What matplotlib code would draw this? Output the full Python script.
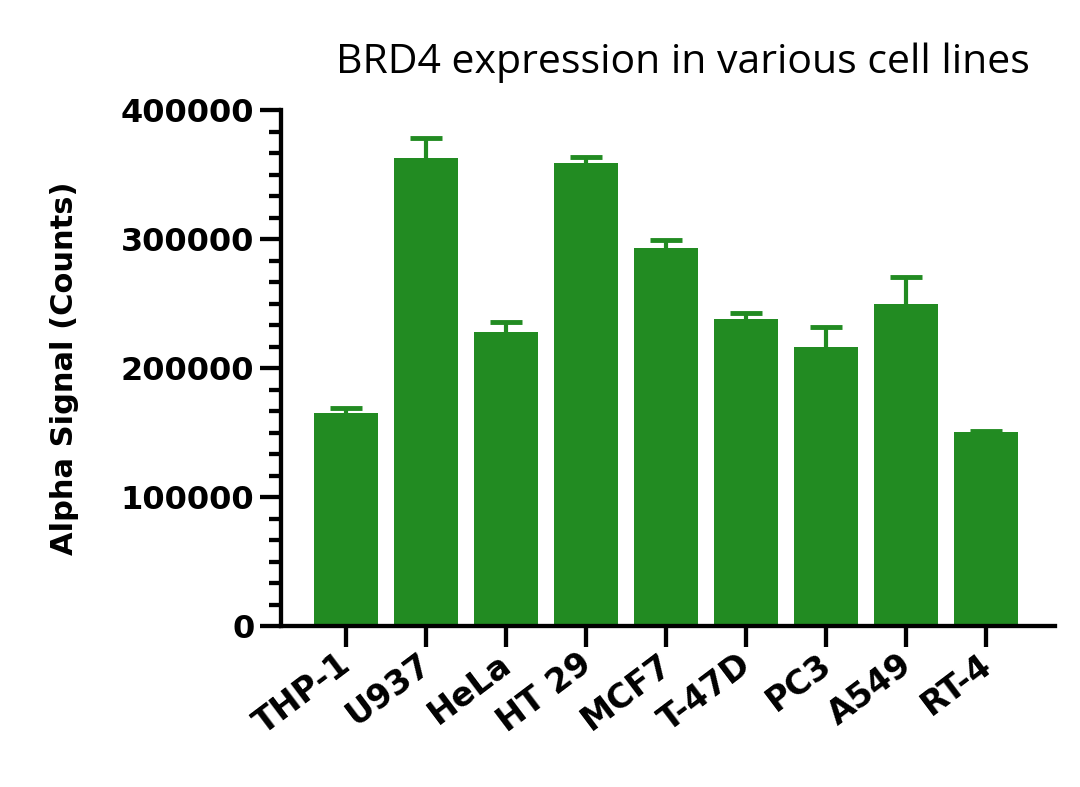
import numpy as np
import matplotlib
matplotlib.use("Agg")
import matplotlib.pyplot as plt
import matplotlib.transforms as mtransforms
from matplotlib.ticker import MultipleLocator, AutoMinorLocator

# values
cell_lines = ["THP-1", "U937", "HeLa", "HT 29", "MCF7", "T-47D", "PC3", "A549", "RT-4"]
signal = [165500, 363300, 228500, 359000, 293200, 238200, 216500, 249800, 150700]
sd = [3500, 15000, 7500, 5000, 6200, 5000, 15700, 20700, 1000]

green = "#228B22"

fig = plt.figure(figsize=(10.8, 7.87), dpi=100)
ax = fig.add_axes([0.260, 0.204, 0.717, 0.656])

x = np.arange(len(cell_lines))
ax.bar(x, signal, width=0.8, color=green, zorder=2)
eb = ax.errorbar(x, signal, yerr=[np.zeros(len(sd)), sd], fmt="none", ecolor=green,
                 elinewidth=3, capsize=11.5, capthick=3.5, zorder=1)
# only the upper cap
eb[1][0].set_visible(False)

ax.set_xlim(-0.81, 8.86)
ax.set_ylim(0, 400000)
ax.yaxis.set_major_locator(MultipleLocator(100000))
ax.yaxis.set_minor_locator(AutoMinorLocator(6))

for s in ["top", "right"]:
    ax.spines[s].set_visible(False)
for s in ["left", "bottom"]:
    ax.spines[s].set_linewidth(3.1)

ax.tick_params(axis="y", which="major", length=15, width=3.1, pad=4)
ax.tick_params(axis="y", which="minor", length=8.4, width=3.1)
ax.tick_params(axis="x", which="major", length=15, width=3.1, pad=0)

ax.set_xticks(x)
ax.set_xticklabels(cell_lines, rotation=37, ha="right", rotation_mode="anchor",
                   fontsize=24, fontweight="bold", family="DejaVu Sans")
shift = mtransforms.ScaledTranslation(-8 / 100, 0, fig.dpi_scale_trans)
for lab in ax.get_xticklabels():
    lab.set_transform(lab.get_transform() + shift)
for lab in ax.get_yticklabels():
    lab.set_fontsize(23)
    lab.set_fontweight("bold")
    lab.set_family("DejaVu Sans")

ax.set_ylabel("Alpha Signal (Counts)", fontsize=22, fontweight="bold",
              family="DejaVu Sans", labelpad=30)
fig.text(0.954, 0.907, "BRD4 expression in various cell lines", ha="right",
         va="baseline", fontsize=29.5, family="Open Sans")

fig.savefig("out.png", dpi=100)
